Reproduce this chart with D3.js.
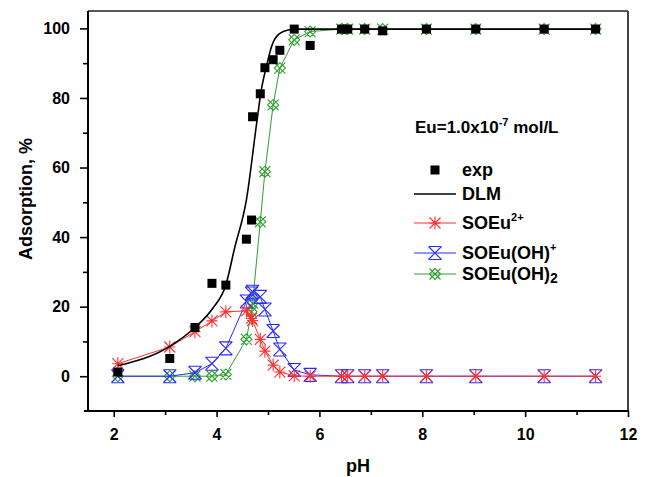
<!DOCTYPE html>
<html>
<head>
<meta charset="utf-8">
<script src="https://cdn.jsdelivr.net/npm/d3@7"></script>
<style>
  html, body { margin: 0; padding: 0; background: #fff; }
  svg { display: block; font-family: "Liberation Sans", Arial, sans-serif; font-weight: bold; }
</style>
</head>
<body>
<svg id="chart" width="648" height="477"></svg>
<script>
// Experimental pH values (model species are computed at the same pH)
const pH = [2.08, 3.09, 3.58, 3.91, 4.18, 4.58, 4.68, 4.70, 4.85, 4.94, 5.10, 5.23, 5.51, 5.82,
            6.43, 6.55, 6.88, 7.23, 8.08, 9.04, 10.37, 11.37];
// Measured adsorption, %
const expValues = [1.2, 5.1, 14.0, 26.7, 26.2, 39.4, 44.9, 74.6, 81.2, 88.7, 91.0, 93.7, 99.8, 95.1,
                   99.8, 99.8, 99.8, 99.3, 99.8, 99.8, 99.8, 99.8];
// Surface species, %
const soEu = [3.6, 8.4, 12.8, 15.9, 18.5, 18.8, 16.6, 16.0, 10.6, 7.2, 3.2, 1.2, 0.1, 0,
              0, 0, 0, 0, 0, 0, 0, 0];
const soEuOH = [0, 0, 1.0, 3.6, 8.0, 21.5, 23.8, 24.3, 22.8, 19.2, 13.0, 7.7, 1.8, 0.4,
                0, 0, 0, 0, 0, 0, 0, 0];
const soEuOH2 = [0, 0, 0, 0, 0.5, 10.6, 18.5, 21.0, 44.4, 58.8, 78.0, 88.6, 96.7, 99.1,
                 99.8, 99.8, 99.8, 99.8, 99.8, 99.8, 99.8, 99.8];
// DLM model curve
const dlmPH = [2.08, 3.09, 3.58, 3.93, 4.18, 4.35, 4.58, 4.78, 4.87, 4.97, 5.07, 5.20, 5.42, 5.6, 6.5, 8.0, 10.0, 11.37];
const dlmValues = [3.0, 8.6, 14.0, 19.6, 26.2, 36.8, 50.7, 72.8, 82.3, 89.1, 94.8, 98.2, 99.6, 99.8, 99.8, 99.8, 99.8, 99.8];

const xTicks = [2, 4, 6, 8, 10, 12];
const yTicks = [0, 20, 40, 60, 80, 100];

const svg = d3.select("#chart");
const plotLeft = 88, plotRight = 628, plotTop = 11, plotBottom = 411;

const x = d3.scaleLinear().domain([1.5, 12]).range([plotLeft, plotRight]);
const y = d3.scaleLinear().domain([-10, 105]).range([plotBottom, plotTop]);

// frame: thin top/right borders
svg.append("line").attr("x1", plotLeft).attr("x2", plotRight).attr("y1", plotTop).attr("y2", plotTop)
  .attr("stroke", "#222").attr("stroke-width", 1.5);
svg.append("line").attr("x1", plotRight).attr("x2", plotRight).attr("y1", plotTop).attr("y2", plotBottom)
  .attr("stroke", "#444").attr("stroke-width", 2);

// axes
const xAxis = svg.append("g").attr("transform", `translate(0,${plotBottom})`)
  .call(d3.axisBottom(x).tickValues(xTicks).tickSize(6).tickPadding(12).tickFormat(d3.format("d")));
const xMinor = svg.append("g").attr("transform", `translate(0,${plotBottom})`)
  .call(d3.axisBottom(x).tickValues([3, 5, 7, 9, 11]).tickSize(4).tickFormat(""));
const yAxis = svg.append("g").attr("transform", `translate(${plotLeft},0)`)
  .call(d3.axisLeft(y).tickValues(yTicks).tickSize(8).tickPadding(10).tickFormat(d3.format("d")));
const yMinor = svg.append("g").attr("transform", `translate(${plotLeft},0)`)
  .call(d3.axisLeft(y).tickValues([10, 30, 50, 70, 90]).tickSize(5).tickFormat(""));

[xAxis, xMinor, yAxis, yMinor].forEach(g => {
  g.select(".domain").remove();
  g.selectAll(".tick line").attr("stroke", "#000").attr("stroke-width", 1.6);
  g.selectAll(".tick text").attr("fill", "#000").style("font-size", "16px")
    .style("font-weight", "bold").style("font-family", "'Liberation Sans', Arial, sans-serif");
});
svg.append("line").attr("x1", plotLeft).attr("x2", plotLeft).attr("y1", plotTop).attr("y2", plotBottom + 1)
  .attr("stroke", "#000").attr("stroke-width", 2);
svg.append("line").attr("x1", plotLeft - 4).attr("x2", plotRight + 1).attr("y1", plotBottom).attr("y2", plotBottom)
  .attr("stroke", "#000").attr("stroke-width", 2);

// axis titles
svg.append("text").attr("x", 358).attr("y", 472).attr("text-anchor", "middle")
  .style("font-size", "18px").text("pH");
svg.append("text").attr("transform", "translate(32,199) rotate(-90)").attr("text-anchor", "middle")
  .style("font-size", "18px").text("Adsorption, %");

// marker shapes
function markerPath(type, s) {
  const X = `M${-s},${-s}L${s},${s}M${-s},${s}L${s},${-s}`;
  if (type === "star") return X + `M0,${-s - 1}L0,${s + 1}M${-s},0L${s},0`;
  if (type === "hourglass") return X + `M${-s},${-s}L${s},${-s}M${-s},${s}L${s},${s}`;
  return X + `M0,${-s}L${s},0L0,${s}L${-s},0Z`;
}

const series = [
  { name: "SOEu(OH)2", values: soEuOH2, color: "#2e9e2e", marker: "diamond", size: 5.5 },
  { name: "SOEu(OH)+", values: soEuOH, color: "#2a2aff", marker: "hourglass", size: 6.5 },
  { name: "SOEu2+", values: soEu, color: "#ff3030", marker: "star", size: 5.5 }
];

const line = d3.line().x(d => x(d[0])).y(d => y(d[1]));

series.forEach(s => {
  const pts = pH.map((p, i) => [p, s.values[i]]);
  svg.append("path").datum(pts).attr("d", line).attr("fill", "none")
    .attr("stroke", s.color).attr("stroke-width", 1);
  svg.append("g").selectAll("path").data(pts).join("path")
    .attr("transform", d => `translate(${x(d[0])},${y(d[1])})`)
    .attr("d", markerPath(s.marker, s.size)).attr("fill", "none")
    .attr("stroke", s.color).attr("stroke-width", 1.1);
});

// DLM curve
const dlmPts = dlmPH.map((p, i) => [p, dlmValues[i]]);
svg.append("path").datum(dlmPts)
  .attr("d", d3.line().x(d => x(d[0])).y(d => y(d[1])).curve(d3.curveMonotoneX))
  .attr("fill", "none").attr("stroke", "#000").attr("stroke-width", 1.6);

// experimental points
svg.append("g").selectAll("rect").data(pH.map((p, i) => [p, expValues[i]])).join("rect")
  .attr("x", d => x(d[0]) - 4.5).attr("y", d => y(d[1]) - 4.5)
  .attr("width", 9).attr("height", 9).attr("fill", "#000");

// annotation
const note = svg.append("text").attr("x", 415).attr("y", 133).style("font-size", "17px");
note.append("tspan").text("Eu=1.0x10");
note.append("tspan").attr("dy", -7).style("font-size", "11px").text("-7");
note.append("tspan").attr("dy", 7).text(" mol/L");

// legend
const lgX0 = 414, lgX1 = 456, lgText = 462;
const lg = svg.append("g").style("font-size", "18px");
lg.append("rect").attr("x", 435 - 4.5).attr("y", 170 - 4.5).attr("width", 9).attr("height", 9);
lg.append("text").attr("x", lgText).attr("y", 176).text("exp");
lg.append("line").attr("x1", lgX0).attr("x2", lgX1).attr("y1", 194).attr("y2", 194)
  .attr("stroke", "#000").attr("stroke-width", 1.6);
lg.append("text").attr("x", lgText).attr("y", 200).text("DLM");

const legendRows = [
  { s: series[2], y: 223, label: [["SOEu", 0, null], ["2+", -8, "11px"]] },
  { s: series[1], y: 253, label: [["SOEu(OH)", 0, null], ["+", -8, "11px"]] },
  { s: series[0], y: 274, label: [["SOEu(OH)", 0, null], ["2", 3, "14px"]] }
];
legendRows.forEach(r => {
  lg.append("line").attr("x1", lgX0).attr("x2", lgX1).attr("y1", r.y).attr("y2", r.y)
    .attr("stroke", r.s.color).attr("stroke-width", 1);
  lg.append("path").attr("transform", `translate(435,${r.y})`)
    .attr("d", markerPath(r.s.marker, r.s.size)).attr("fill", "none")
    .attr("stroke", r.s.color).attr("stroke-width", 1.1);
  const t = lg.append("text").attr("x", lgText).attr("y", r.y + 6);
  r.label.forEach(([txt, dy, fs]) => {
    const ts = t.append("tspan").attr("dy", dy).text(txt);
    if (fs) ts.style("font-size", fs);
  });
});
</script>
</body>
</html>
